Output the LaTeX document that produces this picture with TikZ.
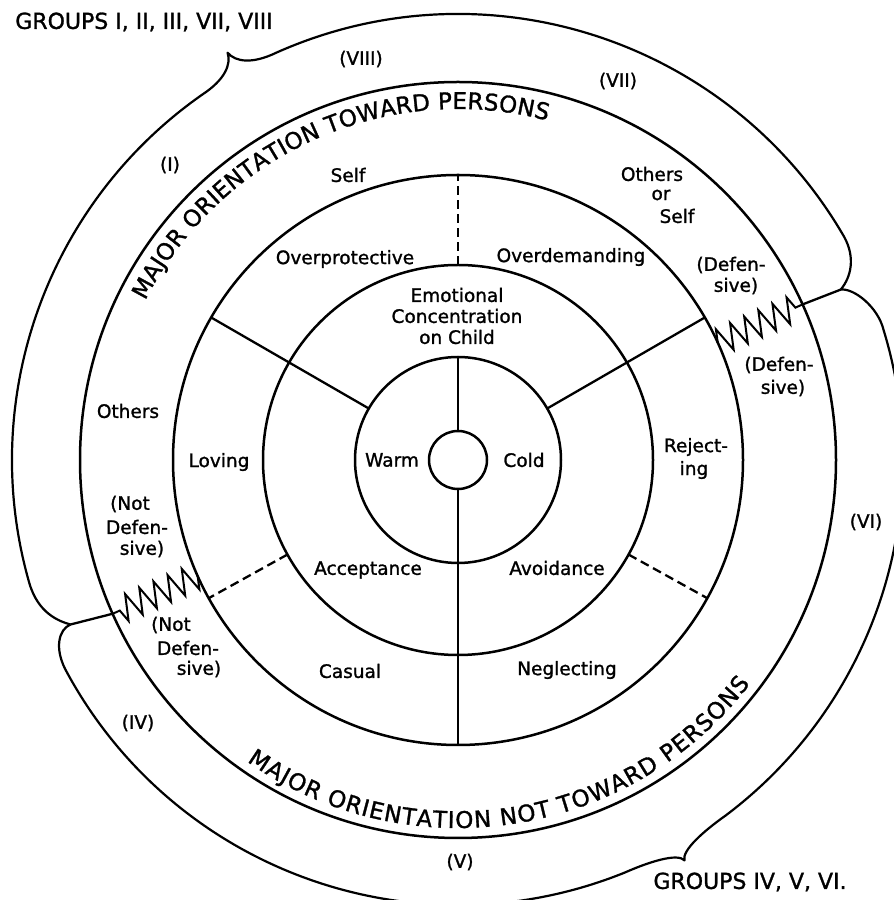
\documentclass[tikz,border=0pt]{standalone}
\usepackage{fontspec}
\setmainfont{DejaVu Sans}[RawFeature={embolden=1.3}]
\usetikzlibrary{decorations.pathmorphing,decorations.text}
\newcommand\lblfont{\fontsize{18.5}{21}\selectfont}
\newcommand\bigtxtfont{\fontsize{23}{26}\selectfont}
\newcommand\grpfont{\fontsize{22}{26}\selectfont}
\begin{document}
\begin{tikzpicture}[x=1pt,y=1pt,line width=2.3pt,
  lbl/.style={font=\lblfont,inner sep=0pt,align=center},
  grp/.style={font=\grpfont,inner sep=0pt},
  ring/.style={line width=2.5pt},
  bracecurve/.style={line width=2.2pt,line join=round},
  dashsep/.style={line width=2.3pt,dash pattern=on 9pt off 5pt},
  zz/.style={line width=2pt,decorate,decoration={zigzag,amplitude=13pt,segment length=15.5pt}}]
\useasboundingbox (0,0) rectangle (894,900);
\begin{scope}[shift={(458,440)}]
% rings
\draw[ring] (0,0) circle[radius=29pt];
\draw[ring] (0,0) circle[radius=103pt];
\draw[ring] (0,0) circle[radius=195pt];
\draw[ring] (0,0) circle[radius=285pt];
\draw[ring] (0,0) circle[radius=378pt];
% separator coordinates
\coordinate (c1t) at (90:29pt);  \coordinate (c2t) at (90:103pt);
\coordinate (c1b) at (270:29pt); \coordinate (c4b) at (270:285pt);
\coordinate (c3t) at (90:195pt); \coordinate (c4t) at (90:285pt);
\coordinate (a2l) at (150:103pt); \coordinate (a4l) at (150:285pt);
\coordinate (a2r) at (30:103pt);  \coordinate (a4r) at (30:285pt);
\coordinate (d3l) at (209:195pt); \coordinate (d4l) at (209:285pt);
\coordinate (d3r) at (-29:195pt); \coordinate (d4r) at (-29:285pt);
\draw (c1t) -- (c2t);
\draw (c1b) -- (c4b);
\draw[dashsep] (c3t) -- (c4t);
\draw (a2l) -- (a4l);
\draw (a2r) -- (a4r);
\draw[dashsep] (d3l) -- (d4l);
\draw[dashsep] (d3r) -- (d4r);
% zigzags and junctions
\coordinate (zri) at (24.3:285pt); \coordinate (zro) at (24.3:378pt);
\coordinate (zli) at (204:285pt);  \coordinate (zlo) at (204:378pt);
\coordinate (J2) at (24:419pt);
\coordinate (J1) at (203:421pt);
\draw[zz] (zri) -- (zro);
\draw[zz] (zli) -- (zlo);
\draw (zro) -- (J2);
\draw (zlo) -- (J1);
% upper brace
\draw[bracecurve] (J1) .. controls (-400,-161) and (200:447pt) .. (196:446pt)
  arc[start angle=196,end angle=125,radius=446pt]
  .. controls (121.5:446pt) and (119.8:456pt) .. (119.5:468pt)
  .. controls (119.2:456pt) and (117.5:446pt) .. (114:446pt)
  arc[start angle=114,end angle=30,radius=446pt]
  .. controls (27:446pt) and (25:434pt) .. (J2);
% lower brace
\draw[bracecurve] (J2) .. controls (396,172) and (20:447pt) .. (17:445pt)
  arc[start angle=17,end angle=-53,radius=445pt]
  .. controls (-56.5:445pt) and (-60.2:450pt) .. (-60.5:460pt)
  .. controls (-60.8:450pt) and (-64.5:445pt) .. (-68:445pt)
  arc[start angle=-68,end angle=-152,radius=445pt]
  .. controls (-155:445pt) and (-157:434pt) .. (J1);
% curved captions
\path[decorate,decoration={text along path,text align={fit to path},
  text={|\bigtxtfont|MAJOR ORIENTATION TOWARD PERSONS}}]
  (153:351pt) arc[start angle=153,end angle=75.3,radius=351pt];
\path[decorate,decoration={text along path,text align={fit to path},
  text={|\bigtxtfont|MAJOR ORIENTATION NOT TOWARD PERSONS}}]
  (-125:368pt) arc[start angle=-125,end angle=-37.5,radius=368pt];
% labels
\node[grp] (g1) at (-314,438) {GROUPS I, II, III, VII, VIII};
\node[grp] (g2) at (292,-422) {GROUPS IV, V, VI.};
\node[lbl] (r8) at (-97,401) {(VIII)};
\node[lbl] (r7) at (160,379) {(VII)};
\node[lbl] (r1) at (-288,295) {(I)};
\node[lbl] (r6) at (408,-62) {(VI)};
\node[lbl] (r4) at (-320,-263) {(IV)};
\node[lbl] (r5) at (2,-402) {(V)};
\node[lbl] (self) at (-110,285) {Self};
\node[lbl] (ovp) at (-113,201) {Overprotective};
\node[lbl] (ovd) at (113,203) {Overdemanding};
\node[lbl] (oth1) at (194,286) {Others};
\node[lbl] (or1) at (203,265) {or};
\node[lbl] (self2) at (219,244) {Self};
\node[lbl] (def1a) at (273,195) {(Defen-};
\node[lbl] (def1b) at (278,174) {sive)};
\node[lbl] (emo) at (-1,144) {Emotional\\Concentration\\on Child};
\node[lbl] (warm) at (-66,0) {Warm};
\node[lbl] (cold) at (66,0) {Cold};
\node[lbl] (lov) at (-239,-2) {Loving};
\node[lbl] (oth2) at (-330,49) {Others};
\node[lbl] (nd1a) at (-328,-44) {(Not};
\node[lbl] (nd1b) at (-321,-67) {Defen-};
\node[lbl] (nd1c) at (-316,-89) {sive)};
\node[lbl] (acc) at (-90,-110) {Acceptance};
\node[lbl] (avo) at (99,-108) {Avoidance};
\node[lbl] (rej1) at (238,13) {Reject-};
\node[lbl] (rej2) at (236,-10) {ing};
\node[lbl] (def2a) at (321,95) {(Defen-};
\node[lbl] (def2b) at (325,72) {sive)};
\node[lbl] (nd2a) at (-287,-165) {(Not};
\node[lbl] (nd2b) at (-270,-188) {Defen-};
\node[lbl] (nd2c) at (-259,-209) {sive)};
\node[lbl] (cas) at (-108,-211) {Casual};
\node[lbl] (neg) at (109,-210) {Neglecting};
\end{scope}
\end{tikzpicture}
\end{document}
